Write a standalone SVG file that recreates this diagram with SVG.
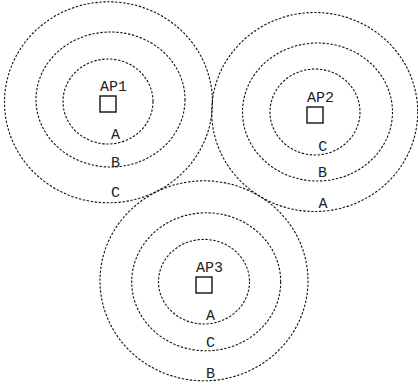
<svg xmlns="http://www.w3.org/2000/svg" width="418" height="389" viewBox="0 0 418 389">
<style>
.ring{fill:none;stroke:#111;stroke-width:1.1;stroke-dasharray:2.4 1.6}
.ap{fill:#fff;stroke:#111;stroke-width:1.4}
text{font-family:"Liberation Mono","Courier New",monospace;font-size:15px;fill:#222}
.lbl{text-anchor:middle}
</style>
<rect width="418" height="389" fill="#fff"/>
<g id="AP1">
<ellipse class="ring" cx="108.5" cy="102.3" rx="104" ry="100.5"/>
<ellipse class="ring" cx="110.5" cy="99.5" rx="74.5" ry="67.5"/>
<ellipse class="ring" cx="108" cy="101.5" rx="45" ry="42.5"/>
<rect class="ap" x="100" y="96" width="16" height="16"/>
<text x="100" y="91">AP1</text>
<text class="lbl" x="115.5" y="139">A</text>
<text class="lbl" x="115.5" y="166.5">B</text>
<text class="lbl" x="115.5" y="197">C</text>
</g>
<g id="AP2">
<ellipse class="ring" cx="314.7" cy="112" rx="103" ry="99.5"/>
<ellipse class="ring" cx="317.5" cy="112" rx="75" ry="69"/>
<ellipse class="ring" cx="315" cy="112" rx="45" ry="43"/>
<rect class="ap" x="307" y="107" width="16" height="16"/>
<text x="307" y="101.7">AP2</text>
<text class="lbl" x="322.8" y="150.7">C</text>
<text class="lbl" x="322.5" y="176.7">B</text>
<text class="lbl" x="323" y="208.3">A</text>
</g>
<g id="AP3">
<ellipse class="ring" cx="204" cy="280.8" rx="104" ry="100"/>
<ellipse class="ring" cx="206.2" cy="281.8" rx="74.5" ry="69"/>
<ellipse class="ring" cx="204" cy="281.7" rx="45.5" ry="42.3"/>
<rect class="ap" x="196" y="277" width="16" height="16"/>
<text x="196" y="271.7">AP3</text>
<text class="lbl" x="210.5" y="320.3">A</text>
<text class="lbl" x="210.5" y="346.7">C</text>
<text class="lbl" x="210.5" y="378.3">B</text>
</g>
<g id="connectors"/>
</svg>
